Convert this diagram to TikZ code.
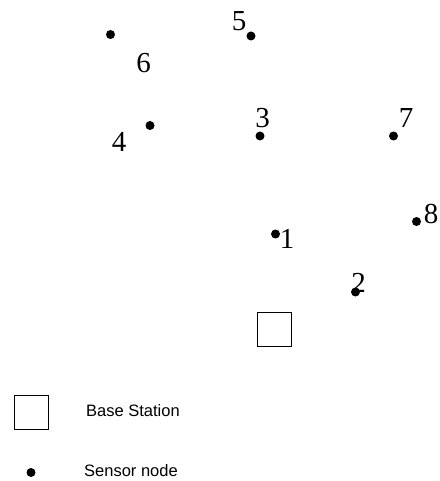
\documentclass[tikz,border=0pt]{standalone}
\usepackage{fontspec}
\setmainfont{Liberation Serif}
\newfontfamily\legendfont{Liberation Sans}
\begin{document}
\begin{tikzpicture}
[
    x=1pt, y=-1pt,
    sensor/.style={circle, fill=black, inner sep=0pt, minimum size=9pt},
    nodenum/.style={inner sep=0pt, font=\fontsize{29}{29}\selectfont},
    station/.style={draw, thick, minimum size=34pt, inner sep=0pt},
    legendtext/.style={anchor=west, inner sep=0pt, font=\legendfont\fontsize{16.5}{16.5}\selectfont}
]
    \useasboundingbox (0,0) rectangle (439,481);
    % sensor nodes
    \node [sensor] (s1) at (275.5, 234) {};
    \node [sensor] (s2) at (355.5, 292) {};
    \node [sensor] (s3) at (260, 136) {};
    \node [sensor] (s4) at (150, 125.5) {};
    \node [sensor] (s5) at (251, 36) {};
    \node [sensor] (s6) at (110.5, 34.5) {};
    \node [sensor] (s7) at (393.5, 136) {};
    \node [sensor] (s8) at (416.5, 221.5) {};
    % numbers
    \node [nodenum] (n1) at (287, 238.5) {1};
    \node [nodenum] (n2) at (358.5, 283) {2};
    \node [nodenum] (n3) at (262.5, 118.5) {3};
    \node [nodenum] (n4) at (119, 141.5) {4};
    \node [nodenum] (n5) at (239, 21.5) {5};
    \node [nodenum] (n6) at (143.5, 63.5) {6};
    \node [nodenum] (n7) at (406, 118.5) {7};
    \node [nodenum] (n8) at (431, 213.5) {8};
    % base station
    \node [station] (bs) at (274.5, 329.5) {};
    % legend
    \node [station] (lbs) at (31.5, 412.5) {};
    \node [legendtext] (lbstext) at (86, 410.5) {Base Station};
    \node [sensor] (ls) at (31, 472.5) {};
    \node [legendtext] (lstext) at (84, 471) {Sensor node};
\end{tikzpicture}
\end{document}
